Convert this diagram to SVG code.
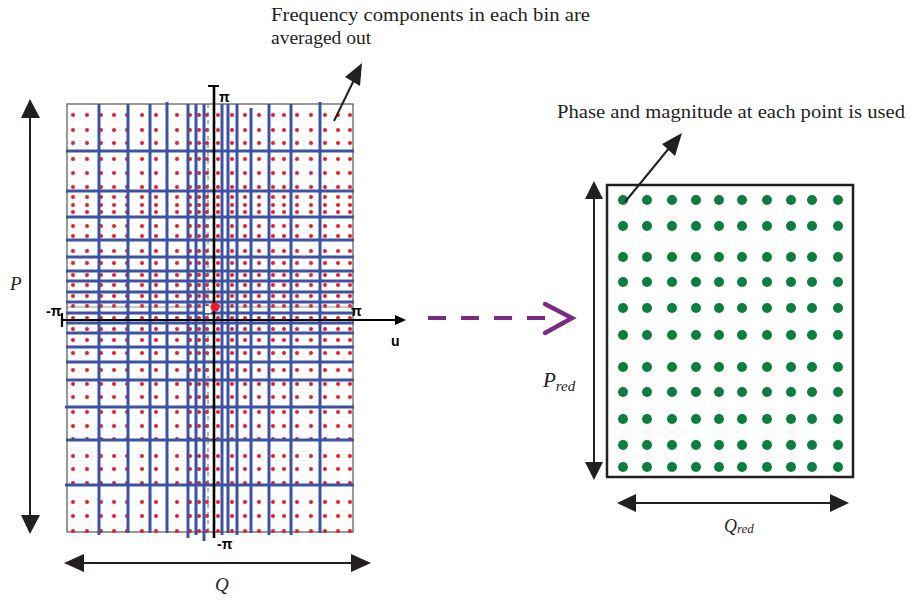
<svg xmlns="http://www.w3.org/2000/svg" xmlns:xlink="http://www.w3.org/1999/xlink" width="910" height="600" viewBox="0 0 910 600">
<style>
.serif{font-family:"Liberation Serif","Times New Roman",serif;fill:#231f20}
.it{font-style:italic}
.pi{font-family:"Liberation Sans",Arial,sans-serif;font-weight:bold;font-size:14px;fill:#000}
.blue line{stroke:#3a53a4;stroke-width:3}
.dim{stroke:#231f20;stroke-width:2;fill:none}
.head{fill:#231f20}
</style>
<defs>
<g id="rrow" fill="#ed1c24">
<circle cx="73" cy="0" r="2"/><circle cx="87" cy="0" r="2"/><circle cx="101" cy="0" r="2"/><circle cx="114" cy="0" r="2"/><circle cx="127" cy="0" r="2"/><circle cx="142" cy="0" r="2"/><circle cx="156" cy="0" r="2"/><circle cx="177" cy="0" r="2"/><circle cx="190" cy="0" r="2"/><circle cx="199" cy="0" r="2"/><circle cx="207" cy="0" r="2"/><circle cx="218" cy="0" r="2"/><circle cx="232" cy="0" r="2"/><circle cx="245" cy="0" r="2"/><circle cx="259" cy="0" r="2"/><circle cx="273" cy="0" r="2"/><circle cx="284" cy="0" r="2"/><circle cx="297" cy="0" r="2"/><circle cx="311" cy="0" r="2"/><circle cx="325" cy="0" r="2"/><circle cx="338" cy="0" r="2"/><circle cx="350" cy="0" r="2"/>
</g>
<g id="grow" fill="#0a7f3f">
<circle cx="623" cy="0" r="5"/><circle cx="647" cy="0" r="5"/><circle cx="672" cy="0" r="5"/><circle cx="696" cy="0" r="5"/><circle cx="719" cy="0" r="5"/><circle cx="742" cy="0" r="5"/><circle cx="767" cy="0" r="5"/><circle cx="791" cy="0" r="5"/><circle cx="812" cy="0" r="5"/><circle cx="838" cy="0" r="5"/>
</g>
</defs>
<rect width="910" height="600" fill="#fff"/>

<g id="left-spectrum">
<rect x="67" y="104" width="286" height="428" fill="#fff" stroke="#555" stroke-width="1.2"/>
<g id="red-dots">
<use xlink:href="#rrow" y="115"/><use xlink:href="#rrow" y="130"/><use xlink:href="#rrow" y="143"/><use xlink:href="#rrow" y="159"/><use xlink:href="#rrow" y="173"/><use xlink:href="#rrow" y="187"/><use xlink:href="#rrow" y="197"/><use xlink:href="#rrow" y="205"/><use xlink:href="#rrow" y="212"/><use xlink:href="#rrow" y="226"/><use xlink:href="#rrow" y="236"/><use xlink:href="#rrow" y="251"/><use xlink:href="#rrow" y="263"/><use xlink:href="#rrow" y="275"/><use xlink:href="#rrow" y="285"/><use xlink:href="#rrow" y="296"/><use xlink:href="#rrow" y="306"/><use xlink:href="#rrow" y="318"/><use xlink:href="#rrow" y="329"/><use xlink:href="#rrow" y="340"/><use xlink:href="#rrow" y="353"/><use xlink:href="#rrow" y="370"/><use xlink:href="#rrow" y="384"/><use xlink:href="#rrow" y="397"/><use xlink:href="#rrow" y="412"/><use xlink:href="#rrow" y="426"/><use xlink:href="#rrow" y="439"/><use xlink:href="#rrow" y="456"/><use xlink:href="#rrow" y="469"/><use xlink:href="#rrow" y="483"/><use xlink:href="#rrow" y="502"/><use xlink:href="#rrow" y="516"/><use xlink:href="#rrow" y="531"/>
</g>
<line x1="67" y1="307" x2="353" y2="307" stroke="#777" stroke-width="0.8"/>
<g class="blue" id="bins">
<line x1="99" y1="104" x2="99" y2="535"/><line x1="128" y1="104" x2="128" y2="533"/><line x1="150" y1="104" x2="150" y2="533"/><line x1="167" y1="102" x2="167" y2="533"/><line x1="188" y1="104" x2="188" y2="538"/><line x1="196" y1="104" x2="196" y2="535"/><line x1="204" y1="104" x2="204" y2="541"/><line x1="222" y1="104" x2="222" y2="535"/><line x1="228" y1="104" x2="228" y2="533"/><line x1="237" y1="104" x2="237" y2="535"/><line x1="251" y1="108" x2="251" y2="533"/><line x1="269" y1="104" x2="269" y2="535"/><line x1="291" y1="104" x2="291" y2="535"/><line x1="320" y1="102" x2="320" y2="533"/>
<line x1="66" y1="151" x2="354" y2="151"/><line x1="66" y1="191" x2="354" y2="191"/><line x1="66" y1="217" x2="354" y2="217"/><line x1="66" y1="240" x2="354" y2="240"/><line x1="66" y1="257" x2="354" y2="257"/><line x1="66" y1="271" x2="354" y2="271"/><line x1="66" y1="281" x2="354" y2="281"/><line x1="66" y1="292" x2="354" y2="292"/><line x1="66" y1="302" x2="354" y2="302"/><line x1="66" y1="313" x2="354" y2="313"/><line x1="66" y1="323" x2="354" y2="323"/><line x1="66" y1="333" x2="354" y2="333"/><line x1="66" y1="347" x2="354" y2="347"/><line x1="66" y1="362" x2="354" y2="362"/><line x1="66" y1="380" x2="354" y2="380"/><line x1="65" y1="407" x2="354" y2="407"/><line x1="66" y1="440" x2="354" y2="440"/><line x1="65" y1="485" x2="354" y2="485"/>
</g>
<line x1="208" y1="104" x2="208" y2="535" stroke="#666" stroke-width="1" stroke-dasharray="4,4"/>
<g id="axes">
<line x1="214" y1="86" x2="214" y2="538" stroke="#000" stroke-width="2.6"/>
<line x1="208" y1="86" x2="219" y2="86" stroke="#000" stroke-width="2"/>
<line x1="62" y1="320" x2="398" y2="320" stroke="#000" stroke-width="2.2"/>
<line x1="62" y1="313" x2="62" y2="327" stroke="#000" stroke-width="2.2"/>
<polygon points="406,320 395,315 395,325" fill="#000"/>
<rect x="205" y="306" width="6" height="7" fill="#fff"/>
<circle cx="215" cy="307" r="4.5" fill="#ed1c24"/>
<text class="pi" x="219" y="102">π</text>
<text class="pi" x="217" y="549">-π</text>
<text class="pi" x="46" y="316">-π</text>
<text class="pi" x="351" y="316">π</text>
<text class="pi" x="391" y="346">u</text>
</g>
</g>

<g id="right-grid">
<rect x="607" y="185" width="246" height="292" fill="#fff" stroke="#231f20" stroke-width="2.5"/>
<use xlink:href="#grow" y="200"/><use xlink:href="#grow" y="226"/><use xlink:href="#grow" y="257"/><use xlink:href="#grow" y="282"/><use xlink:href="#grow" y="308"/><use xlink:href="#grow" y="335"/><use xlink:href="#grow" y="367"/><use xlink:href="#grow" y="392"/><use xlink:href="#grow" y="419"/><use xlink:href="#grow" y="445"/><use xlink:href="#grow" y="467"/>
</g>

<g id="labels">
<text class="serif" x="271" y="21" font-size="19.5" textLength="319" lengthAdjust="spacingAndGlyphs">Frequency components in each bin are</text>
<text class="serif" x="271" y="44" font-size="19.5">averaged out</text>
<text class="serif" x="557" y="118" font-size="19.5" textLength="348" lengthAdjust="spacingAndGlyphs">Phase and magnitude at each point is used</text>
<text class="serif it" x="10" y="290" font-size="19">P</text>
<text class="serif it" x="215" y="591" font-size="19">Q</text>
<text class="serif it" x="543" y="387" font-size="21">P<tspan font-size="15" dy="4">red</tspan></text>
<text class="serif it" x="724" y="532" font-size="18">Q<tspan font-size="13" dy="1">red</tspan></text>
</g>

<g id="connectors">
<line class="dim" x1="30" y1="115" x2="30" y2="518"/>
<polygon class="head" points="30,99 21,118 40,118"/>
<polygon class="head" points="30,534 21,515 40,515"/>
<line class="dim" x1="83" y1="563" x2="352" y2="563"/>
<polygon class="head" points="64,563 84,554 84,572"/>
<polygon class="head" points="371,563 351,554 351,572"/>
<line class="dim" x1="594" y1="197" x2="594" y2="465"/>
<polygon class="head" points="594,181 585,199 603,199"/>
<polygon class="head" points="594,480 585,462 603,462"/>
<line class="dim" x1="633" y1="503" x2="832" y2="503"/>
<polygon class="head" points="617,503 636,494 636,512"/>
<polygon class="head" points="849,503 830,494 830,512"/>
<line class="dim" x1="334" y1="121" x2="354" y2="80"/>
<polygon class="head" points="362,63 345,77 360,86"/>
<line class="dim" x1="625" y1="202" x2="670" y2="147"/>
<polygon class="head" points="682,133 662,144 675,156"/>
<line x1="428" y1="318" x2="545" y2="318" stroke="#7b2a82" stroke-width="4" stroke-dasharray="18,15"/>
<polyline points="545,304 572,318 545,333" fill="none" stroke="#7b2a82" stroke-width="4.5" stroke-linecap="round" stroke-linejoin="miter"/>
</g>
</svg>
